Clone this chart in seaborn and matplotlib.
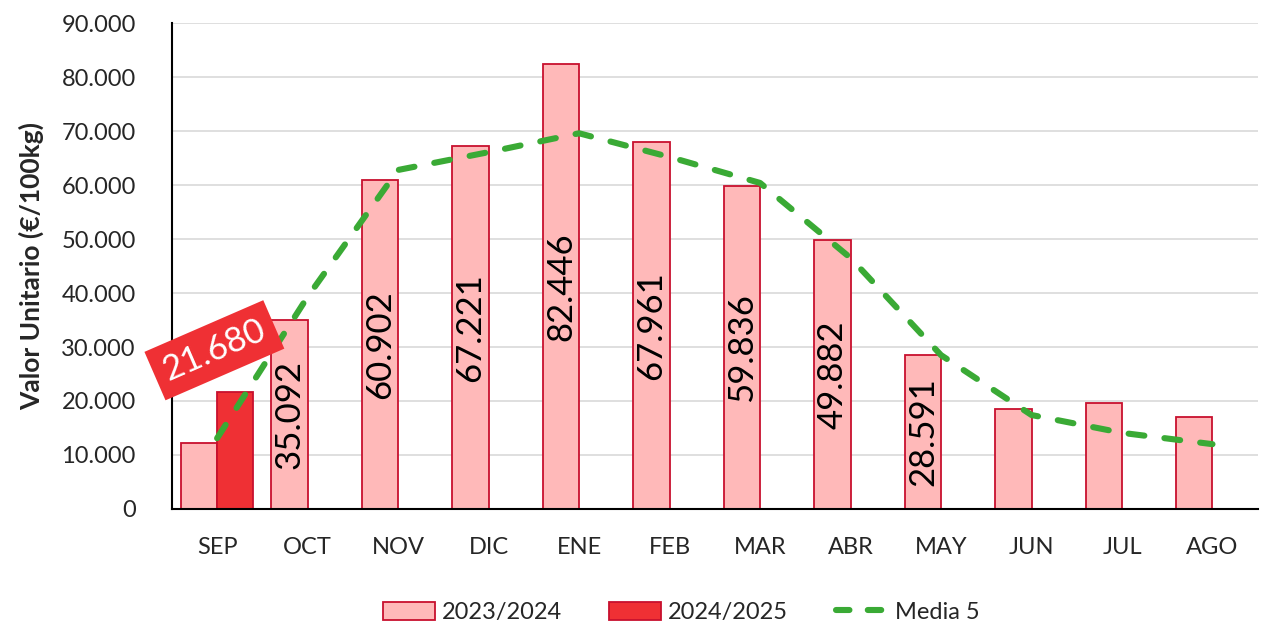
import numpy as np
import pandas as pd
import matplotlib
matplotlib.use("Agg")
import matplotlib.pyplot as plt
import seaborn as sns
from matplotlib.patches import Patch
from matplotlib.lines import Line2D

months = ["SEP", "OCT", "NOV", "DIC", "ENE", "FEB", "MAR", "ABR", "MAY", "JUN", "JUL", "AGO"]
v2324 = [12200, 35092, 60902, 67221, 82446, 67961, 59836, 49882, 28591, 18460, 19700, 16980]
v2425 = [21680]
media5 = [13100, 39300, 62800, 66100, 69600, 65200, 60400, 46500, 28500, 17400, 14100, 12000]
labels2324 = ["", "35.092", "60.902", "67.221", "82.446", "67.961", "59.836", "49.882", "28.591", "", "", ""]
label2425 = "21.680"
yticks = [0, 10000, 20000, 30000, 40000, 50000, 60000, 70000, 80000, 90000]
ytick_labels = ["0", "10.000", "20.000", "30.000", "40.000", "50.000", "60.000", "70.000", "80.000", "90.000"]

sns.set_style("white")
plt.rcParams['font.family'] = ['Lato', 'DejaVu Sans']

df = pd.DataFrame({
    "mes": months + months[:len(v2425)],
    "valor": v2324 + v2425,
    "campaña": ["2023/2024"] * len(months) + ["2024/2025"] * len(v2425),
})

fig = plt.figure(figsize=(12.73, 6.26), dpi=100)
ax = fig.add_axes([0.135, 0.187, 0.853, 0.776])

edge = "#C8102E"
green = "#3AAA35"
pal = {"2023/2024": "#FFB9B9", "2024/2025": "#EF3034"}
sns.barplot(data=df, x="mes", y="valor", hue="campaña", order=months,
            hue_order=["2023/2024", "2024/2025"], palette=pal, width=0.8,
            edgecolor=edge, linewidth=1.3, saturation=1, ax=ax, legend=False)

ldf = pd.DataFrame({"pos": np.arange(len(months)), "media": media5})
sns.lineplot(data=ldf, x="pos", y="media", ax=ax, color=green, lw=4.4,
             linestyle=(0, (2.6, 3.3)), dash_capstyle="round", zorder=5)

ax.bar_label(ax.containers[0], labels=labels2324, label_type="center",
             rotation=90, fontsize=25, color="black")

ax.text(-0.03, 29400, label2425, rotation=23.5, ha="center", va="center",
        fontsize=25, color="white", zorder=6,
        bbox=dict(boxstyle="square,pad=0.3", fc="#EF3034", ec="none"))

ax.set_xlim(-0.5, 11.5)
ax.set_ylim(0, 90000)
ax.set_yticks(yticks)
ax.set_yticklabels(ytick_labels, fontsize=17)
ax.set_xticks(range(len(months)))
ax.set_xticklabels(months, fontsize=17)
ax.tick_params(axis="x", length=6, width=1.2, color="black", pad=14, direction="out")
ax.tick_params(axis="y", length=0, pad=26)
ax.yaxis.grid(True, color="#D9D9D9", lw=1.2)
ax.set_axisbelow(True)
for s in ["top", "right"]:
    ax.spines[s].set_visible(False)
for s in ["left", "bottom"]:
    ax.spines[s].set_color("black")
    ax.spines[s].set_linewidth(1.5)
ax.set_xlabel("")
ax.set_ylabel("Valor Unitario (€/100kg)", fontsize=19, fontweight="bold", labelpad=12)

handles = [Patch(fc=pal["2023/2024"], ec=edge, lw=1.3),
           Patch(fc=pal["2024/2025"], ec=edge, lw=1.3),
           Line2D([0], [0], color=green, lw=4.4, linestyle=(0, (2.2, 3.0)), dash_capstyle="round")]
fig.legend(handles, ["2023/2024", "2024/2025", "Media 5"], loc="center",
           bbox_to_anchor=(0.535, 0.022), ncol=3, frameon=False, fontsize=17,
           handlelength=2.2, handleheight=0.8, columnspacing=2.0, handletextpad=0.3)

fig.savefig("out.png", dpi=100)
